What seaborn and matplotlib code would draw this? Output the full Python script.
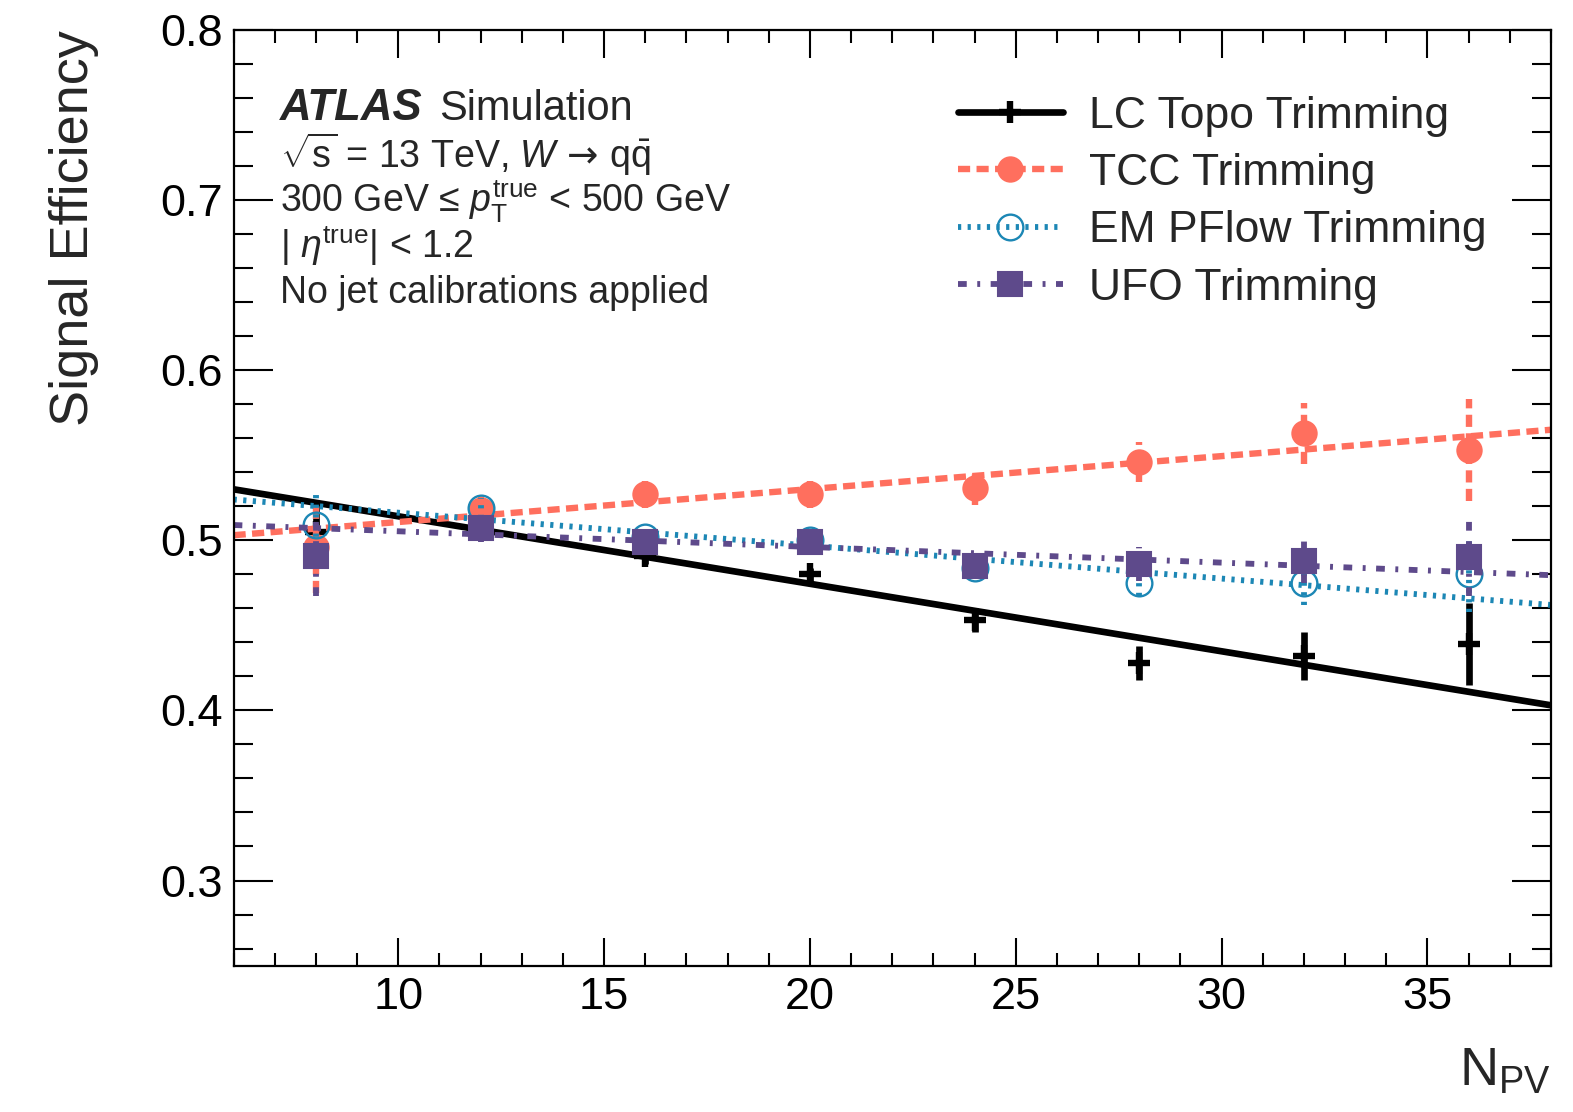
import numpy as np
import matplotlib
matplotlib.use("Agg")
import matplotlib.pyplot as plt
from matplotlib.lines import Line2D
from matplotlib.ticker import MultipleLocator
import seaborn as sns

# N_PV bins
npv = [8, 12, 16, 20, 24, 28, 32, 36]

# signal efficiency per algorithm, with stat. errors
lc_eff = [0.505, 0.507, 0.491, 0.480, 0.453, 0.428, 0.432, 0.439]
lc_err = [0.015, 0.007, 0.005, 0.004, 0.007, 0.010, 0.014, 0.024]
tcc_eff = [0.496, 0.518, 0.527, 0.527, 0.531, 0.546, 0.563, 0.553]
tcc_err = [0.027, 0.010, 0.008, 0.008, 0.010, 0.012, 0.018, 0.030]
em_eff = [0.509, 0.519, 0.502, 0.500, 0.484, 0.475, 0.475, 0.480]
em_err = [0.018, 0.006, 0.005, 0.005, 0.006, 0.008, 0.013, 0.022]
ufo_eff = [0.491, 0.507, 0.499, 0.499, 0.485, 0.486, 0.488, 0.490]
ufo_err = [0.024, 0.008, 0.006, 0.006, 0.007, 0.010, 0.013, 0.023]

# linear fits, read at the axis edges
fit_x = [6, 38]
lc_fit = [0.530, 0.403]
tcc_fit = [0.503, 0.565]
em_fit = [0.524, 0.462]
ufo_fit = [0.509, 0.4795]

labels = ["LC Topo Trimming", "TCC Trimming", "EM PFlow Trimming", "UFO Trimming"]

sns.set_theme(style="ticks")
plt.rcParams["font.family"] = ["Liberation Sans", "DejaVu Sans"]
plt.rcParams["mathtext.fontset"] = "custom"
plt.rcParams["mathtext.rm"] = "Liberation Sans"
plt.rcParams["mathtext.it"] = "Liberation Sans:italic"
plt.rcParams["mathtext.bf"] = "Liberation Sans:bold"
plt.rcParams["mathtext.sf"] = "DejaVu Sans"

BLACK = "#000000"
SALMON = "#FF6F5E"
TEAL = "#1C87B5"
PURPLE = "#5E4A8B"

series = [
    # eff, err, fit, color, linestyle, marker, ms, mfc, mew, lw
    (lc_eff, lc_err, lc_fit, BLACK, "-", "+", 16, BLACK, 4.6, 4.8),
    (tcc_eff, tcc_err, tcc_fit, SALMON, (0, (1.9, 1.0)), "o", 17.5, SALMON, 1.5, 4.6),
    (em_eff, em_err, em_fit, TEAL, (0, (0.55, 1.1)), "o", 18.5, "none", 1.7, 4.2),
    (ufo_eff, ufo_err, ufo_fit, PURPLE, (0, (1.5, 1.8, 0.5, 1.8)), "s", 17.5, PURPLE, 1.5, 4.2),
]

fig = plt.figure(figsize=(15.73, 11.12), dpi=100)
ax = fig.add_axes([0.1485, 0.1317, 0.986 - 0.1485, 0.973 - 0.1317])

handles = []
for eff, err, fit, col, ls, mk, ms, mfc, mew, lw in series:
    sns.lineplot(x=fit_x, y=fit, ax=ax, color=col, linewidth=lw, linestyle=ls)
    eb = ax.errorbar(npv, eff, yerr=err, fmt="none", ecolor=col, elinewidth=lw, capsize=0)
    eb[2][0].set_linestyle(ls)
    ax.plot(npv, eff, ls="none", marker=mk, ms=ms, mfc=mfc, mec=col, mew=mew)
    handles.append(Line2D([], [], color=col, lw=lw, linestyle=ls, marker=mk,
                          ms=ms, mfc=mfc, mec=col, mew=mew))

ax.set_xlim(6, 38)
ax.set_ylim(0.25, 0.8)
ax.xaxis.set_major_locator(MultipleLocator(5))
ax.xaxis.set_minor_locator(MultipleLocator(1))
ax.yaxis.set_minor_locator(MultipleLocator(0.02))
ax.set_yticks([0.3, 0.4, 0.5, 0.6, 0.7, 0.8])
ax.set_yticklabels(["0.3", "0.4", "0.5", "0.6", "0.7", "0.8"])

for s in ax.spines.values():
    s.set_linewidth(1.6)
    s.set_color("black")
ax.tick_params(which="both", direction="in", top=True, right=True, width=1.5,
               colors="black", labelsize=32.5)
ax.tick_params(axis="y", which="major", length=28, pad=8)
ax.tick_params(axis="y", which="minor", length=14)
ax.tick_params(axis="x", which="major", length=20, pad=8)
ax.tick_params(axis="x", which="minor", length=9.5)

ax.set_ylabel("Signal Efficiency", fontsize=39, loc="top")
ax.yaxis.set_label_coords(-0.102, 1.0)
ax.set_xlabel(r"N$_{\mathrm{PV}}$", fontsize=39, loc="right")
ax.xaxis.set_label_coords(1.0, -0.128)
ax.xaxis.label.set_va("baseline")

tx = 0.035
ax.text(tx, 0.9035, "ATLAS", transform=ax.transAxes, fontsize=31.5,
        fontweight="bold", fontstyle="italic", va="baseline")
ax.text(tx + 0.121, 0.9035, "Simulation", transform=ax.transAxes, fontsize=30,
        va="baseline")
ax.text(tx, 0.853,
        r"$\sqrt{\mathrm{s}}$ = 13 TeV, $W\,\mathsf{\rightarrow}\,\mathrm{q\bar{q}}$",
        transform=ax.transAxes, fontsize=27, va="baseline")
ax.text(tx, 0.805, r"300 GeV ≤ $p_{\mathrm{T}}^{\mathrm{true}}$ < 500 GeV",
        transform=ax.transAxes, fontsize=27, va="baseline")
ax.text(tx, 0.756, r"| $\eta^{\mathrm{true}}$| < 1.2",
        transform=ax.transAxes, fontsize=27, va="baseline")
ax.text(tx, 0.708, "No jet calibrations applied",
        transform=ax.transAxes, fontsize=27, va="baseline")

ax.legend(handles, labels, loc="upper left", bbox_to_anchor=(0.55, 0.93),
          frameon=False, fontsize=32, handlelength=2.35, handletextpad=0.6,
          labelspacing=0.37, borderpad=0, borderaxespad=0)

fig.savefig("out.png", dpi=100)
